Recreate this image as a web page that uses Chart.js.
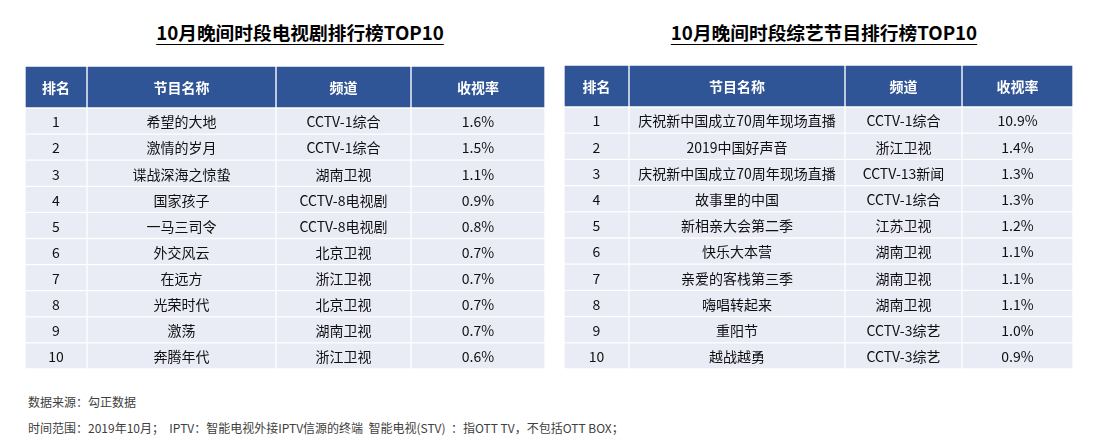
<!DOCTYPE html>
<html>
<head>
<meta charset="utf-8">
<script src="https://cdn.jsdelivr.net/npm/chart.js@4.4.1/dist/chart.umd.min.js"></script>
<style>
  body { margin: 0; width: 1107px; height: 440px; background: #fff; position: relative; overflow: hidden;
         font-family: "Noto Sans CJK SC", "Noto Sans", sans-serif; }
  .title { position: absolute; top: 19px; width: 400px; font-size: 18.7px; font-weight: bold;
           text-decoration: underline; text-underline-offset: 4px; color: #000; text-align: center; line-height: 26px; }
  .box { position: absolute; }
  .note { position: absolute; left: 28px; font-size: 12px; line-height: 17px; color: #404040; white-space: nowrap; }
</style>
</head>
<body>
<div class="title" style="left:100px">10月晚间时段电视剧排行榜TOP10</div>
<div class="title" style="left:624px">10月晚间时段综艺节目排行榜TOP10</div>

<div class="box" style="left:25px;top:66px;width:520px;height:42px"><canvas id="dramaHead"></canvas></div>
<div class="box" style="left:25px;top:108px;width:520px;height:261px"><canvas id="dramaBody"></canvas></div>
<div class="box" style="left:564px;top:65px;width:509px;height:42px"><canvas id="varietyHead"></canvas></div>
<div class="box" style="left:564px;top:107px;width:509px;height:262px"><canvas id="varietyBody"></canvas></div>

<div class="note" style="top:393px">数据来源：勾正数据</div>
<div class="note" style="top:419px">时间范围：2019年10月；&nbsp; IPTV：智能电视外接IPTV信源的终端&nbsp; 智能电视(STV)&nbsp; ：指OTT TV，不包括OTT BOX；</div>

<script>
const headers = ["排名", "节目名称", "频道", "收视率"];
const ranks = ["1", "2", "3", "4", "5", "6", "7", "8", "9", "10"];

const dramaNames = ["希望的大地", "激情的岁月", "谍战深海之惊蛰", "国家孩子", "一马三司令",
  "外交风云", "在远方", "光荣时代", "激荡", "奔腾年代"];
const dramaChannels = ["CCTV-1综合", "CCTV-1综合", "湖南卫视", "CCTV-8电视剧", "CCTV-8电视剧",
  "北京卫视", "浙江卫视", "北京卫视", "湖南卫视", "浙江卫视"];
const dramaRatings = [1.6, 1.5, 1.1, 0.9, 0.8, 0.7, 0.7, 0.7, 0.7, 0.6];

const varietyNames = ["庆祝新中国成立70周年现场直播", "2019中国好声音", "庆祝新中国成立70周年现场直播",
  "故事里的中国", "新相亲大会第二季", "快乐大本营", "亲爱的客栈第三季", "嗨唱转起来", "重阳节", "越战越勇"];
const varietyChannels = ["CCTV-1综合", "浙江卫视", "CCTV-13新闻", "CCTV-1综合", "江苏卫视",
  "湖南卫视", "湖南卫视", "湖南卫视", "CCTV-3综艺", "CCTV-3综艺"];
const varietyRatings = [10.9, 1.4, 1.3, 1.3, 1.2, 1.1, 1.1, 1.1, 1.0, 0.9];

// column widths in px (layout only)
const dramaCols = [62, 189, 135, 134];
const varietyCols = [65, 216, 117, 111];

const headBlue = "#2F5597";
const cellFill = "#E9EBF5";
const font = '"Noto Sans CJK SC", "Noto Sans", sans-serif';

// draws the text of each cell at the centre of its bar
const cellText = {
  id: "cellText",
  afterDatasetsDraw(chart, args, opts) {
    const ctx = chart.ctx;
    ctx.save();
    ctx.font = opts.font;
    ctx.fillStyle = opts.color;
    ctx.textAlign = "center";
    ctx.textBaseline = "middle";
    chart.data.datasets.forEach((ds, i) => {
      chart.getDatasetMeta(i).data.forEach((bar, j) => {
        const p = bar.getCenterPoint();
        ctx.fillText(ds.texts[j], p.x, p.y + 1);
      });
    });
    ctx.restore();
  }
};

function edgesOf(widths) {
  const edges = [0];
  widths.forEach((w) => edges.push(edges[edges.length - 1] + w));
  return edges;
}

function columnSets(edges, columns, fill, border) {
  return columns.map((texts, i) => ({
    data: texts.map(() => [edges[i], edges[i + 1]]),
    texts: texts,
    backgroundColor: fill,
    borderColor: border,
    borderWidth: 1,
    borderSkipped: false,
    barPercentage: 1,
    categoryPercentage: 1,
    grouped: false,
  }));
}

function drawTable(canvasId, labels, edges, columns, fill, border, textFont, textColor) {
  new Chart(document.getElementById(canvasId), {
    type: "bar",
    data: { labels: labels, datasets: columnSets(edges, columns, fill, border) },
    options: {
      indexAxis: "y",
      responsive: true,
      maintainAspectRatio: false,
      animation: false,
      events: [],
      layout: { padding: 0 },
      scales: {
        x: { type: "linear", min: 0, max: edges[edges.length - 1], display: false },
        y: { display: false },
      },
      plugins: {
        legend: { display: false },
        tooltip: { enabled: false },
        cellText: { font: textFont, color: textColor },
      },
    },
    plugins: [cellText],
  });
}

function makeTable(prefix, widths, names, channels, ratings) {
  const edges = edgesOf(widths);
  drawTable(prefix + "Head", ["header"], edges, headers.map((h) => [h]),
    headBlue, "rgba(255,255,255,0.7)", "bold 14px " + font, "#fff");
  const pct = ratings.map((v) => v.toFixed(1) + "%");
  drawTable(prefix + "Body", ranks, edges, [ranks, names, channels, pct],
    cellFill, "#fff", "14px " + font, "#111");
}

makeTable("drama", dramaCols, dramaNames, dramaChannels, dramaRatings);
makeTable("variety", varietyCols, varietyNames, varietyChannels, varietyRatings);
</script>
</body>
</html>
